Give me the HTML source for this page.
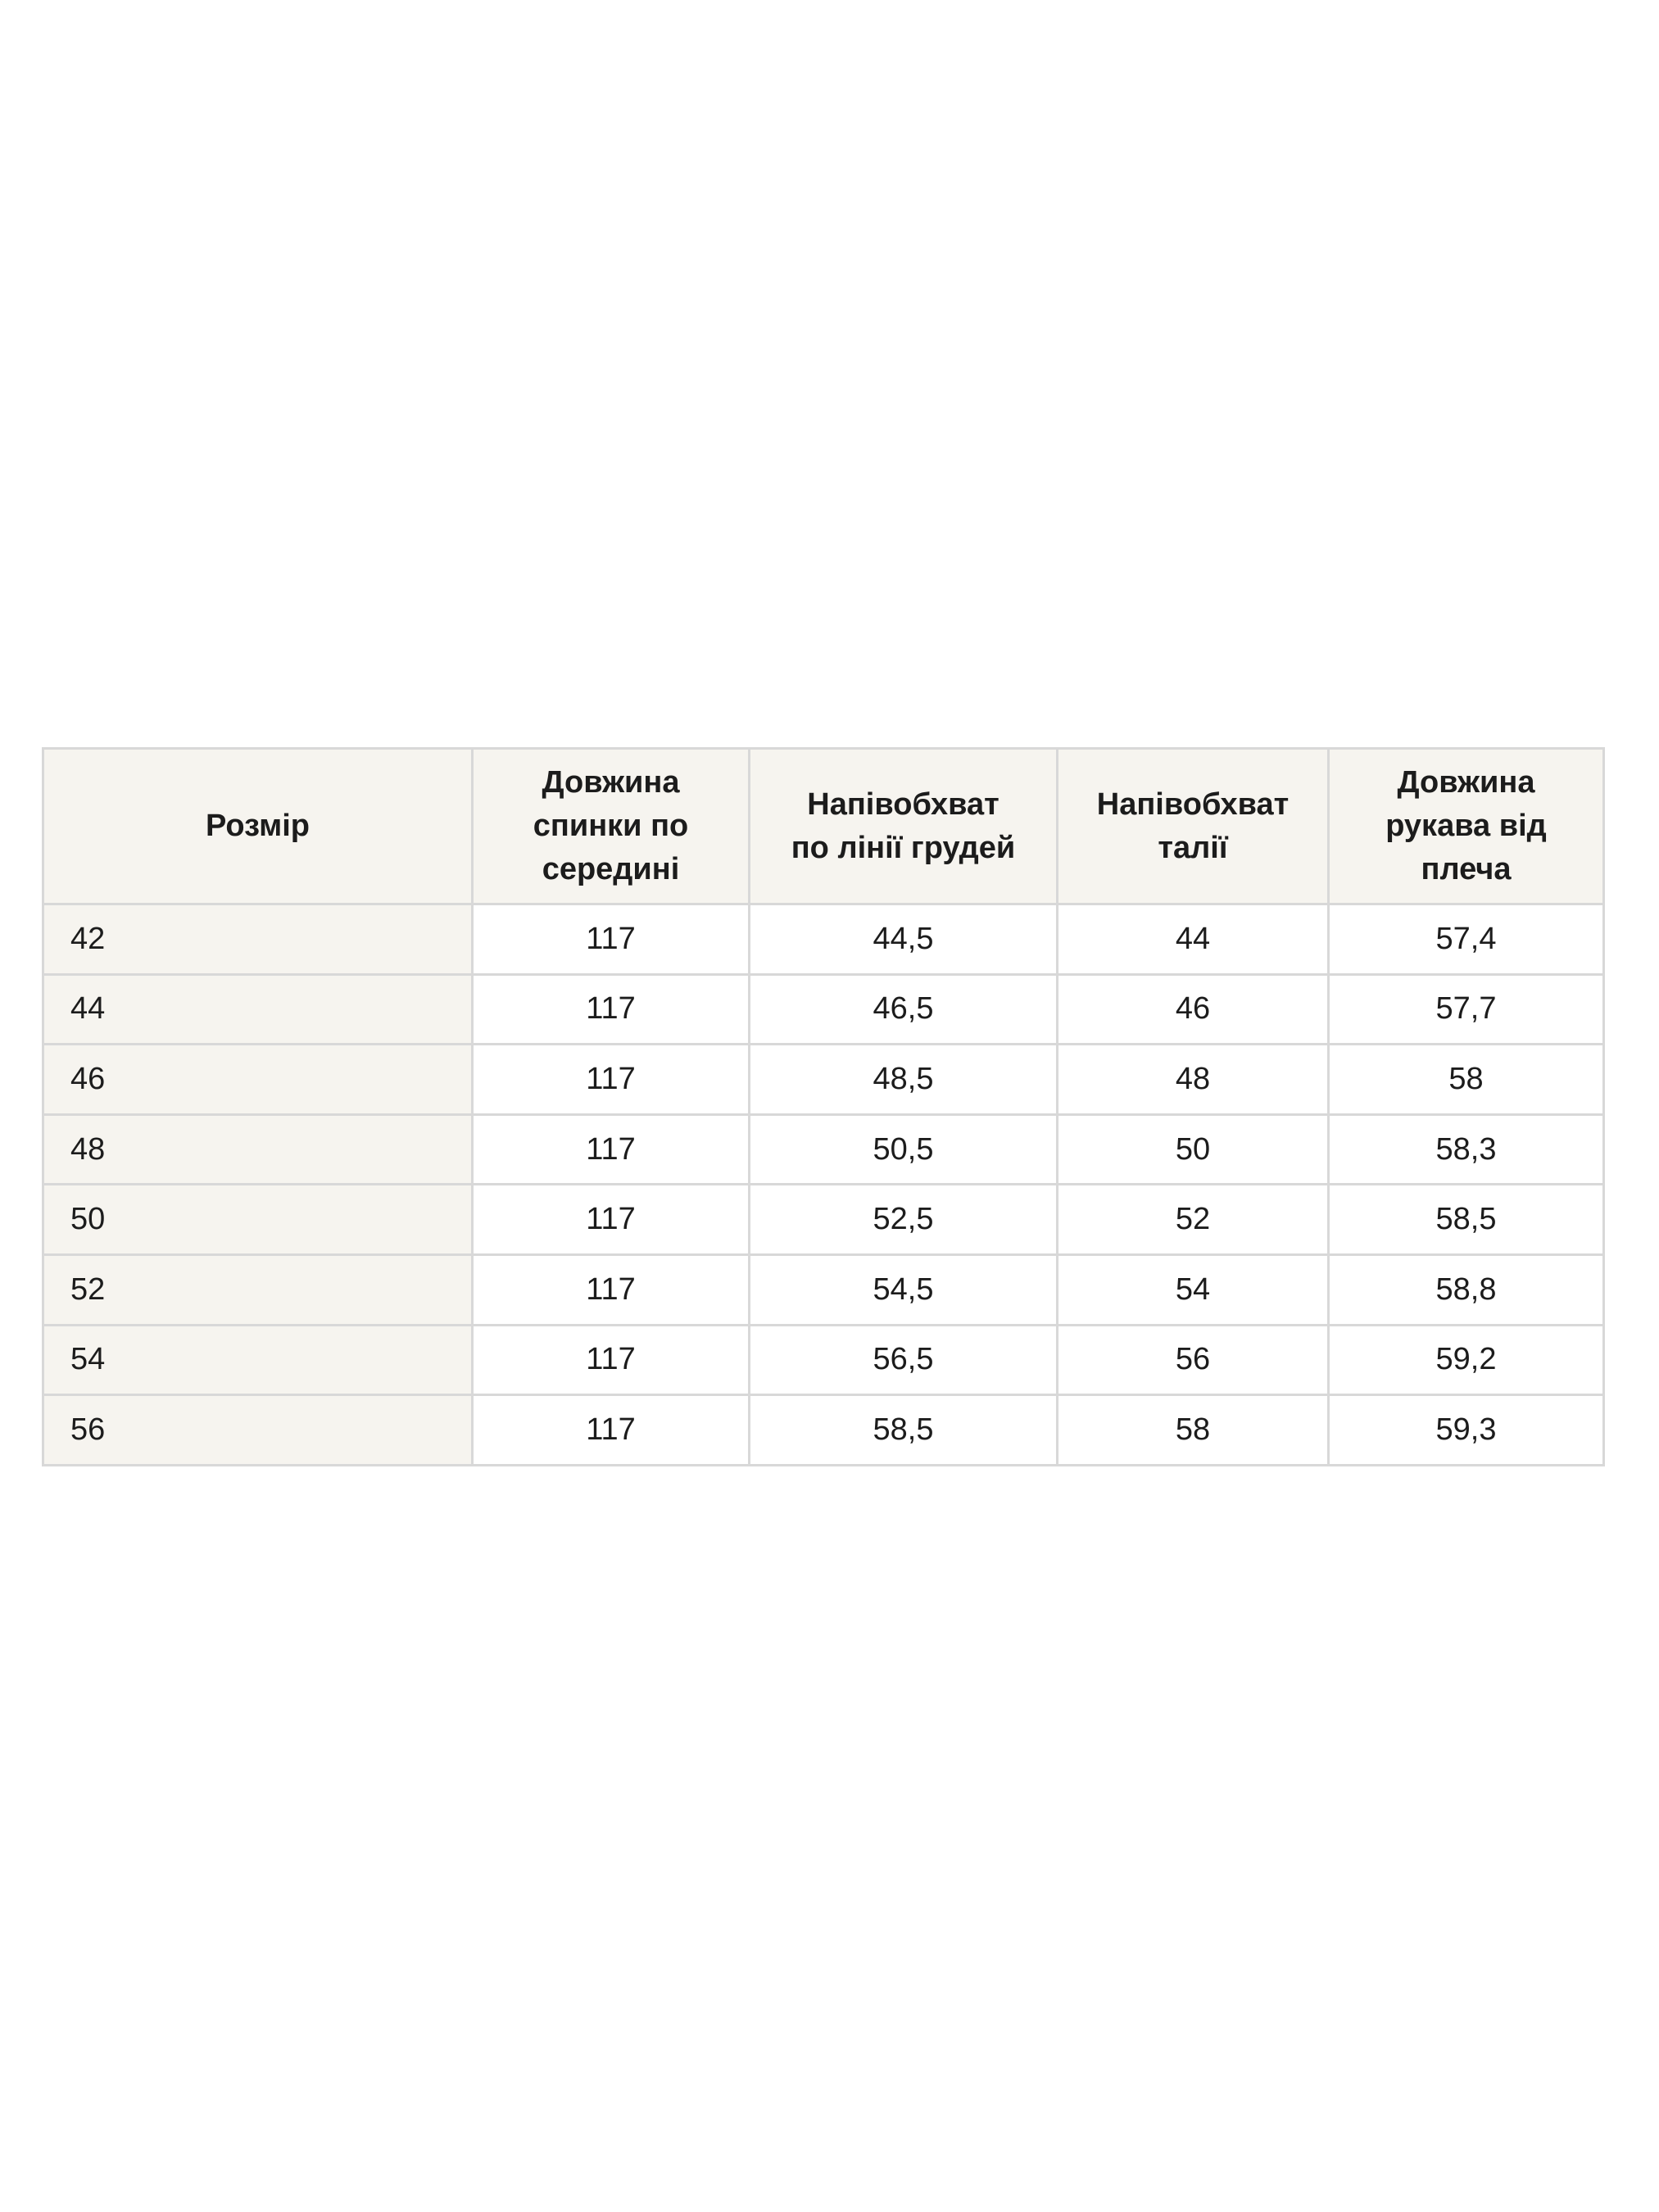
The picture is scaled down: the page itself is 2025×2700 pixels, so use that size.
<!DOCTYPE html>
<html><head><meta charset="utf-8"><style>
html,body{margin:0;padding:0;background:#fff;width:2025px;height:2700px;overflow:hidden}
table{position:absolute;left:51px;top:912px;border-collapse:collapse;font-family:"Liberation Sans","DejaVu Sans",sans-serif;color:#1c1c1c}
td,th{border:3px solid #d8d8d8;text-align:center;padding:0;font-size:38px}
th{background:#f6f4ef;font-weight:bold;height:187px;line-height:53px}
td{height:82.6px}
td.f{background:#f6f4ef;text-align:left;padding-left:32px}
</style></head><body>
<table>
<colgroup><col style="width:524px"><col style="width:338px"><col style="width:376px"><col style="width:331px"><col style="width:336px"></colgroup>
<tr><th>Розмір</th><th>Довжина<br>спинки по<br>середині</th><th>Напівобхват<br>по лінії грудей</th><th>Напівобхват<br>талії</th><th>Довжина<br>рукава від<br>плеча</th></tr>
<tr><td class="f">42</td><td>117</td><td>44,5</td><td>44</td><td>57,4</td></tr>
<tr><td class="f">44</td><td>117</td><td>46,5</td><td>46</td><td>57,7</td></tr>
<tr><td class="f">46</td><td>117</td><td>48,5</td><td>48</td><td>58</td></tr>
<tr><td class="f">48</td><td>117</td><td>50,5</td><td>50</td><td>58,3</td></tr>
<tr><td class="f">50</td><td>117</td><td>52,5</td><td>52</td><td>58,5</td></tr>
<tr><td class="f">52</td><td>117</td><td>54,5</td><td>54</td><td>58,8</td></tr>
<tr><td class="f">54</td><td>117</td><td>56,5</td><td>56</td><td>59,2</td></tr>
<tr><td class="f">56</td><td>117</td><td>58,5</td><td>58</td><td>59,3</td></tr>
</table>
</body></html>
